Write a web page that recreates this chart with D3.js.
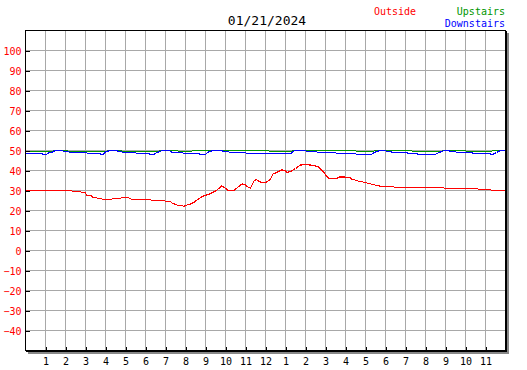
<!DOCTYPE html>
<html>
<head>
<meta charset="utf-8">
<script src="https://cdn.jsdelivr.net/npm/d3@7"></script>
<style>
  body { margin: 0; background: #fff; }
  svg text { font-family: "DejaVu Sans Mono", monospace; }
</style>
</head>
<body>
<div id="chart"></div>
<script>
'use strict';

const title = '01/21/2024';
const hourTicks = d3.range(1, 24);
const tempTicks = d3.range(-40, 101, 10);

// [hour, temp] readings
const outside = [
  [0, 30], [2.3, 30], [2.35, 29.5], [2.75, 29.5], [2.8, 29], [3.0, 29], [3.05, 27.5], [3.3, 27.5],
  [3.35, 26.5], [3.55, 26.5], [3.6, 26], [3.8, 26], [3.85, 25.5], [4.3, 25.5], [4.35, 26], [4.75, 26],
  [4.8, 26.5], [5.15, 26.5], [5.2, 26], [5.35, 25.5], [6.25, 25.5], [6.3, 25], [6.95, 25], [7.0, 24.5],
  [7.25, 24.5], [7.35, 23.5], [7.55, 23], [7.6, 22.5], [7.85, 22.5], [7.9, 22], [8.0, 22.5], [8.25, 23.3],
  [8.42, 24], [8.58, 25.3], [8.83, 27], [9.08, 27.8], [9.33, 28.8], [9.58, 30.3], [9.8, 32.2], [9.97, 31.3],
  [10.13, 30], [10.42, 30], [10.58, 31.3], [10.75, 32.8], [10.87, 33.3], [11.0, 32.7], [11.13, 31.7],
  [11.25, 31.3], [11.42, 34.7], [11.53, 35.5], [11.7, 34.5], [11.83, 33.8], [12.08, 34.3], [12.25, 35.8],
  [12.37, 38.2], [12.58, 39.2], [12.83, 40.3], [12.97, 40], [13.08, 39], [13.3, 39.8], [13.5, 41],
  [13.75, 42.7], [14.0, 43], [14.25, 42.7], [14.5, 42.3], [14.67, 41.7], [14.83, 40], [14.97, 38.3],
  [15.13, 36.3], [15.33, 35.8], [15.53, 36], [15.7, 36.7], [15.92, 36.8], [16.08, 36.5], [16.25, 36.5],
  [16.3, 35.5], [16.45, 35.5], [16.5, 35], [16.6, 35], [16.65, 34.5], [16.85, 34.5], [16.9, 34],
  [17.05, 34], [17.1, 33.5], [17.25, 33.5], [17.3, 33], [17.45, 33], [17.5, 32.5], [17.67, 32.5],
  [17.7, 32], [18.4, 32], [18.45, 31.5], [20.9, 31.5], [20.95, 31], [22.6, 31], [22.65, 30.5],
  [23.25, 30.5], [23.3, 30], [23.95, 30]
];

const upstairs = [
  [0, 49.5], [1.35, 49.5], [1.4, 50], [2.1, 50], [2.15, 49.5], [4.05, 49.5], [4.1, 50], [4.8, 50],
  [4.85, 49.5], [6.65, 49.5], [6.7, 50], [7.6, 50], [7.65, 49.5], [8.3, 49.5], [8.35, 50], [12.15, 50],
  [12.2, 49.5], [13.3, 49.5], [13.35, 50], [16.5, 50], [16.55, 49.5], [17.4, 49.5], [17.45, 50],
  [19.3, 50], [19.35, 49.5], [20.8, 49.5], [20.85, 50], [22.0, 50], [22.05, 49.5], [23.3, 49.5],
  [23.35, 50], [24, 50]
];

const downstairs = [
  [0, 48.5], [0.83, 48.5], [0.87, 48], [1.05, 48], [1.1, 48.5], [1.17, 49], [1.33, 49], [1.37, 49.5],
  [1.55, 50], [1.85, 50], [1.9, 49.5], [2.15, 49.5], [2.2, 49], [3.05, 49], [3.1, 48.5], [3.72, 48.5],
  [3.75, 48], [3.87, 48], [3.9, 48.5], [4.05, 49.5], [4.25, 50], [4.58, 50], [4.62, 49.5], [4.8, 49.5],
  [4.85, 49], [5.5, 49], [5.55, 48.5], [6.17, 48.5], [6.2, 48], [6.42, 48], [6.45, 48.5], [6.6, 49],
  [6.7, 49.5], [6.85, 50], [7.2, 50], [7.25, 49.5], [7.33, 49], [7.85, 49], [7.9, 48.5], [8.67, 48.5],
  [8.7, 48], [9.0, 48], [9.05, 48.5], [9.17, 49.5], [9.4, 50], [9.83, 50], [9.87, 49.5], [10.15, 49.5],
  [10.2, 49], [11.0, 49], [11.05, 48.5], [13.3, 48.5], [13.35, 49.5], [13.5, 50], [14.0, 50],
  [14.05, 49.5], [14.55, 49.5], [14.6, 49], [15.5, 49], [15.55, 48.5], [16.5, 48.5], [16.55, 48],
  [17.3, 48], [17.35, 48.5], [17.45, 49], [17.55, 49.5], [17.75, 50], [18.0, 50], [18.05, 49.5],
  [18.27, 49.5], [18.3, 49], [19.08, 49], [19.12, 48.5], [19.58, 48.5], [19.62, 48], [20.5, 48],
  [20.55, 48.5], [20.7, 49], [20.8, 49.5], [20.95, 50], [21.17, 50], [21.2, 49.5], [21.5, 49.5],
  [21.55, 49], [22.33, 49], [22.37, 48.5], [23.25, 48.5], [23.28, 48], [23.38, 48], [23.42, 48.5],
  [23.55, 49], [23.62, 49.5], [23.8, 50], [24, 50]
];

const series = [
  {name: 'Outside', values: outside, colour: '#ff0000'},
  {name: 'Upstairs', values: upstairs, colour: '#009600'},
  {name: 'Downstairs', values: downstairs, colour: '#0000ff'}
];

const width = 527;
const height = 370;
const margin = {top: 30, right: 22, bottom: 20, left: 25};
const plotW = width - margin.left - margin.right;
const plotH = height - margin.top - margin.bottom;

const svg = d3.select('#chart').append('svg')
  .attr('width', width)
  .attr('height', height);

const x = d3.scaleLinear().domain([0, 24]).range([0, plotW]);
const y = d3.scaleLinear().domain([-50, 110]).range([plotH, 0]);

const g = svg.append('g')
  .attr('transform', 'translate(' + (margin.left + 0.5) + ',' + (margin.top + 0.5) + ')');

// drop shadow, right and bottom
g.append('rect')
  .attr('x', plotW + 1.5).attr('y', 2.5)
  .attr('width', 2).attr('height', plotH + 1)
  .attr('fill', '#888');
g.append('rect')
  .attr('x', 2.5).attr('y', plotH + 1.5)
  .attr('width', plotW + 1).attr('height', 2)
  .attr('fill', '#888');

// grid
g.append('g').selectAll('line')
  .data(hourTicks)
  .join('line')
  .attr('x1', d => x(d)).attr('x2', d => x(d))
  .attr('y1', 0).attr('y2', plotH)
  .attr('stroke', '#a8a8a8')
  .attr('shape-rendering', 'crispEdges');

g.append('g').selectAll('line')
  .data(tempTicks)
  .join('line')
  .attr('x1', 0).attr('x2', plotW)
  .attr('y1', d => y(d)).attr('y2', d => y(d))
  .attr('stroke', '#a8a8a8')
  .attr('shape-rendering', 'crispEdges');

// series lines
const line = d3.line()
  .x(d => x(d[0]))
  .y(d => y(d[1]));

g.append('g').selectAll('path')
  .data(series)
  .join('path')
  .attr('d', d => line(d.values))
  .attr('fill', 'none')
  .attr('stroke', d => d.colour)
  .attr('stroke-width', 1.2)
  .attr('shape-rendering', 'crispEdges');

// axes
const yAxis = d3.axisLeft(y)
  .tickValues(tempTicks)
  .tickSizeInner(-4)
  .tickSizeOuter(0)
  .tickPadding(4);

const yAxisG = g.append('g').call(yAxis);
yAxisG.select('.domain').remove();
yAxisG.selectAll('line').attr('stroke', '#000').attr('shape-rendering', 'crispEdges');
yAxisG.selectAll('text')
  .attr('fill', '#ff0000')
  .attr('dy', '0.4em')
  .style('font-size', '10px')
  .style('font-family', 'DejaVu Sans Mono, monospace');

const xAxis = d3.axisBottom(x)
  .tickValues(hourTicks)
  .tickFormat(d => ((d - 1) % 12) + 1)
  .tickSizeInner(-4)
  .tickSizeOuter(0)
  .tickPadding(7);

const xAxisG = g.append('g')
  .attr('transform', 'translate(0,' + plotH + ')')
  .call(xAxis);
xAxisG.select('.domain').remove();
xAxisG.selectAll('line').attr('stroke', '#000').attr('shape-rendering', 'crispEdges');
xAxisG.selectAll('text')
  .attr('fill', '#000')
  .style('font-size', '10px')
  .style('font-family', 'DejaVu Sans Mono, monospace');

// frame
g.append('rect')
  .attr('width', plotW).attr('height', plotH)
  .attr('fill', 'none')
  .attr('stroke', '#000')
  .attr('shape-rendering', 'crispEdges');
g.append('line')
  .attr('x1', plotW + 1).attr('x2', plotW + 1)
  .attr('y1', 0).attr('y2', plotH + 1)
  .attr('stroke', '#000').attr('shape-rendering', 'crispEdges');
g.append('line')
  .attr('x1', 0).attr('x2', plotW + 1)
  .attr('y1', plotH + 1).attr('y2', plotH + 1)
  .attr('stroke', '#000').attr('shape-rendering', 'crispEdges');

// title
svg.append('text')
  .attr('x', margin.left + plotW / 2 + 2)
  .attr('y', 25)
  .attr('text-anchor', 'middle')
  .style('font-size', '13px')
  .attr('fill', '#000')
  .text(title);

// legend
svg.append('text')
  .attr('x', 374).attr('y', 15)
  .style('font-size', '10px')
  .attr('fill', series[0].colour)
  .text(series[0].name);
svg.append('text')
  .attr('x', 505).attr('y', 15)
  .attr('text-anchor', 'end')
  .style('font-size', '10px')
  .attr('fill', series[1].colour)
  .text(series[1].name);
svg.append('text')
  .attr('x', 505).attr('y', 27)
  .attr('text-anchor', 'end')
  .style('font-size', '10px')
  .attr('fill', series[2].colour)
  .text(series[2].name);
</script>
</body>
</html>
